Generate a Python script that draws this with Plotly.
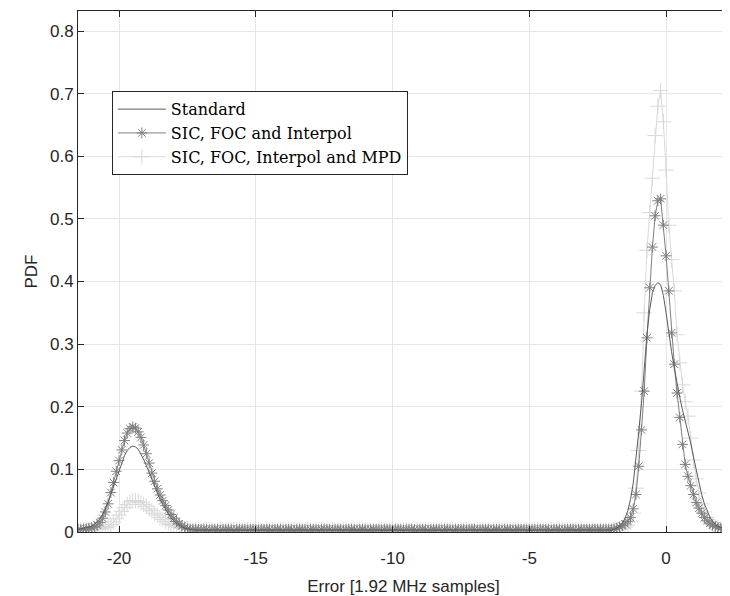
import numpy as np
import plotly.graph_objects as go

# x grid: -21.5 .. 2.3 in steps of 0.1
x_start, x_stop, x_step = -21.5, 2.3, 0.1
x = np.round(np.arange(x_start, x_stop + x_step / 2, x_step), 1)

series_names = ["Standard", "SIC, FOC and Interpol", "SIC, FOC, Interpol and MPD"]

# ---- Standard ----
std_left = [0.004, 0.005, 0.005, 0.006, 0.007, 0.009, 0.012, 0.016, 0.021, 0.028,
            0.037, 0.048, 0.060, 0.072, 0.086, 0.099,
            0.111, 0.122, 0.130, 0.135, 0.137, 0.136, 0.132, 0.125, 0.116, 0.106,
            0.095, 0.083, 0.072, 0.062, 0.052, 0.044, 0.036, 0.029, 0.023, 0.018,
            0.014, 0.011, 0.008, 0.006, 0.005, 0.004, 0.004, 0.003, 0.003, 0.003]
std_mid = [0.003, 0.003, 0.003, 0.002, 0.003, 0.003, 0.003, 0.002, 0.003, 0.003,
           0.003, 0.002, 0.003, 0.003, 0.003, 0.003, 0.002, 0.003, 0.003, 0.003,
           0.002, 0.003, 0.003, 0.003, 0.002, 0.003, 0.003, 0.003, 0.003, 0.002,
           0.003, 0.003, 0.002, 0.003, 0.003, 0.003, 0.003, 0.002, 0.003, 0.003,
           0.003, 0.002, 0.003, 0.003, 0.003, 0.003, 0.002, 0.003, 0.003, 0.003,
           0.002, 0.003, 0.003, 0.003, 0.003, 0.002, 0.003, 0.003, 0.003, 0.002,
           0.003, 0.003, 0.003, 0.002, 0.003, 0.003, 0.003, 0.003, 0.002, 0.003,
           0.003, 0.003, 0.002, 0.003, 0.003, 0.003, 0.003, 0.002, 0.003, 0.003,
           0.003, 0.002, 0.003, 0.003, 0.003, 0.003, 0.002, 0.003, 0.003, 0.003,
           0.002, 0.003, 0.003, 0.003, 0.003, 0.002, 0.003, 0.003, 0.003, 0.002,
           0.003, 0.003, 0.003, 0.002, 0.003, 0.003, 0.003, 0.003, 0.002, 0.003,
           0.003, 0.003, 0.002, 0.003, 0.003, 0.003, 0.003, 0.002, 0.003, 0.003,
           0.003, 0.002, 0.003, 0.003, 0.003, 0.003, 0.002, 0.003, 0.003, 0.003,
           0.002, 0.003, 0.003, 0.003, 0.003, 0.002, 0.003, 0.003, 0.003, 0.003,
           0.003, 0.003, 0.003, 0.003, 0.003, 0.003, 0.003, 0.003, 0.003]
std_right = [0.003, 0.004, 0.006, 0.009, 0.014, 0.022, 0.034, 0.052, 0.078, 0.115,
             0.160, 0.205, 0.265, 0.315, 0.355, 0.382, 0.394, 0.398, 0.395, 0.378,
             0.350, 0.315, 0.288, 0.262, 0.235, 0.215, 0.195, 0.178, 0.163, 0.142,
             0.120, 0.098, 0.078, 0.060, 0.045, 0.033, 0.024, 0.017, 0.012, 0.009,
             0.007, 0.005, 0.004, 0.004]

# ---- SIC, FOC and Interpol ----
sic_left = [0.004, 0.004, 0.005, 0.005, 0.006, 0.007, 0.008, 0.011, 0.015, 0.022,
            0.032, 0.045, 0.063, 0.079, 0.097, 0.114,
            0.131, 0.146, 0.158, 0.165, 0.168, 0.166, 0.160, 0.151, 0.139, 0.125,
            0.110, 0.094, 0.081, 0.069, 0.059, 0.050, 0.042, 0.035, 0.028, 0.022,
            0.017, 0.013, 0.010, 0.007, 0.005, 0.004, 0.004, 0.004, 0.004, 0.004]
sic_mid = [0.004, 0.004, 0.003, 0.004, 0.004, 0.004, 0.003, 0.004, 0.004, 0.004,
           0.004, 0.003, 0.004, 0.004, 0.004, 0.004, 0.003, 0.004, 0.004, 0.004,
           0.003, 0.004, 0.004, 0.004, 0.004, 0.003, 0.004, 0.004, 0.004, 0.003,
           0.004, 0.004, 0.004, 0.003, 0.004, 0.004, 0.004, 0.004, 0.003, 0.004,
           0.004, 0.004, 0.003, 0.004, 0.004, 0.004, 0.004, 0.003, 0.004, 0.004,
           0.004, 0.003, 0.004, 0.004, 0.004, 0.004, 0.003, 0.004, 0.004, 0.004,
           0.003, 0.004, 0.004, 0.004, 0.004, 0.003, 0.004, 0.004, 0.004, 0.003,
           0.004, 0.004, 0.004, 0.003, 0.004, 0.004, 0.004, 0.004, 0.003, 0.004,
           0.004, 0.004, 0.003, 0.004, 0.004, 0.004, 0.004, 0.003, 0.004, 0.004,
           0.004, 0.003, 0.004, 0.004, 0.004, 0.004, 0.003, 0.004, 0.004, 0.004,
           0.003, 0.004, 0.004, 0.004, 0.004, 0.003, 0.004, 0.004, 0.004, 0.003,
           0.004, 0.004, 0.004, 0.003, 0.004, 0.004, 0.004, 0.004, 0.003, 0.004,
           0.004, 0.004, 0.003, 0.004, 0.004, 0.004, 0.004, 0.003, 0.004, 0.004,
           0.004, 0.003, 0.004, 0.004, 0.004, 0.004, 0.003, 0.004, 0.004, 0.004,
           0.004, 0.004, 0.004, 0.004, 0.004, 0.004, 0.004, 0.004, 0.004]
sic_right = [0.004, 0.005, 0.006, 0.008, 0.010, 0.013, 0.017, 0.023, 0.037, 0.060,
             0.105, 0.163, 0.225, 0.310, 0.390, 0.455, 0.505, 0.529, 0.532, 0.490,
             0.441, 0.385, 0.318, 0.268, 0.222, 0.183, 0.140, 0.108, 0.089, 0.074,
             0.060, 0.047, 0.038, 0.030, 0.023, 0.018, 0.014, 0.011, 0.009, 0.007,
             0.006, 0.005, 0.004, 0.004]

# ---- SIC, FOC, Interpol and MPD ----
mpd_left = [0.003, 0.003, 0.003, 0.003, 0.003, 0.004, 0.004, 0.004, 0.005, 0.006,
            0.007, 0.009, 0.012, 0.016, 0.021, 0.027,
            0.033, 0.039, 0.044, 0.048, 0.050, 0.050, 0.049, 0.047, 0.044, 0.041,
            0.037, 0.034, 0.030, 0.027, 0.023, 0.020, 0.017, 0.014, 0.012, 0.010,
            0.008, 0.007, 0.006, 0.005, 0.005, 0.004, 0.004, 0.004, 0.004, 0.003]
mpd_mid = [0.003, 0.003, 0.004, 0.003, 0.003, 0.003, 0.004, 0.003, 0.003, 0.003,
           0.003, 0.004, 0.003, 0.003, 0.003, 0.003, 0.004, 0.003, 0.003, 0.003,
           0.004, 0.003, 0.003, 0.003, 0.003, 0.004, 0.003, 0.003, 0.003, 0.004,
           0.003, 0.003, 0.003, 0.004, 0.003, 0.003, 0.003, 0.003, 0.004, 0.003,
           0.003, 0.003, 0.004, 0.003, 0.003, 0.003, 0.003, 0.004, 0.003, 0.003,
           0.003, 0.004, 0.003, 0.003, 0.003, 0.003, 0.004, 0.003, 0.003, 0.003,
           0.004, 0.003, 0.003, 0.003, 0.003, 0.004, 0.003, 0.003, 0.003, 0.004,
           0.003, 0.003, 0.003, 0.004, 0.003, 0.003, 0.003, 0.003, 0.004, 0.003,
           0.003, 0.003, 0.004, 0.003, 0.003, 0.003, 0.003, 0.004, 0.003, 0.003,
           0.003, 0.004, 0.003, 0.003, 0.003, 0.003, 0.004, 0.003, 0.003, 0.003,
           0.004, 0.003, 0.003, 0.003, 0.003, 0.004, 0.003, 0.003, 0.003, 0.004,
           0.003, 0.003, 0.003, 0.004, 0.003, 0.003, 0.003, 0.003, 0.004, 0.003,
           0.003, 0.003, 0.004, 0.003, 0.003, 0.003, 0.003, 0.004, 0.003, 0.003,
           0.003, 0.004, 0.003, 0.003, 0.003, 0.003, 0.004, 0.003, 0.003, 0.003,
           0.003, 0.003, 0.003, 0.003, 0.003, 0.003, 0.003, 0.003, 0.003]
mpd_right = [0.003, 0.003, 0.004, 0.005, 0.006, 0.008, 0.011, 0.016, 0.030, 0.070,
             0.130, 0.225, 0.350, 0.450, 0.510, 0.565, 0.633, 0.680, 0.705, 0.655,
             0.578, 0.490, 0.435, 0.385, 0.315, 0.270, 0.235, 0.208, 0.185, 0.150,
             0.115, 0.085, 0.062, 0.045, 0.032, 0.023, 0.016, 0.012, 0.009, 0.007,
             0.005, 0.004, 0.004, 0.003]

y_std = std_left + std_mid + std_right
y_sic = sic_left + sic_mid + sic_right
y_mpd = mpd_left + mpd_mid + mpd_right

x_ticks = [-20, -15, -10, -5, 0]
x_tick_labels = ["-20", "-15", "-10", "-5", "0"]
y_ticks = [0, 0.1, 0.2, 0.3, 0.4, 0.5, 0.6, 0.7, 0.8]
y_tick_labels = ["0", "0.1", "0.2", "0.3", "0.4", "0.5", "0.6", "0.7", "0.8"]

fig = go.Figure()
fig.add_trace(go.Scatter(
    x=x, y=y_mpd, name=series_names[2], mode="lines+markers",
    line=dict(color="#d9d9d9", width=1),
    marker=dict(symbol="cross-thin-open", size=11, color="#d9d9d9",
                line=dict(color="#d9d9d9", width=1))))
fig.add_trace(go.Scatter(
    x=x, y=y_sic, name=series_names[1], mode="lines+markers",
    line=dict(color="#7f7f7f", width=1),
    marker=dict(symbol="asterisk-open", size=9, color="#7f7f7f",
                line=dict(color="#7f7f7f", width=1))))
fig.add_trace(go.Scatter(
    x=x, y=y_std, name=series_names[0], mode="lines",
    line=dict(color="#5a5a5a", width=1)))

axis_common = dict(
    showgrid=True, gridcolor="#e6e6e6", gridwidth=1,
    zeroline=False, showline=True, linecolor="#262626", linewidth=1,
    ticks="inside", ticklen=6, tickcolor="#262626",
    tickfont=dict(family="Liberation Sans, Arial, sans-serif", size=17, color="#262626"),
)

fig.update_layout(
    width=722, height=588,
    paper_bgcolor="white", plot_bgcolor="white",
    margin=dict(l=70, r=1, t=3, b=64),
    showlegend=True,
    legend=dict(
        x=0.052, y=0.846, xanchor="left", yanchor="top",
        traceorder="reversed",
        bgcolor="white", bordercolor="#262626", borderwidth=1,
        font=dict(family="DejaVu Serif, serif", size=16, color="#000000"),
        tracegroupgap=0, itemwidth=48,
    ),
    xaxis=dict(range=[-21.5, 2.3], tickvals=x_ticks, ticktext=x_tick_labels,
               mirror="ticks", ticklabelstandoff=11,
               title=dict(text="Error [1.92 MHz samples]", standoff=12,
                          font=dict(family="Liberation Sans, Arial, sans-serif", size=17, color="#262626")),
               **axis_common),
    yaxis=dict(range=[0, 0.832], tickvals=y_ticks, ticktext=y_tick_labels,
               ticklabelstandoff=0,
               title=dict(text="PDF", standoff=8,
                          font=dict(family="Liberation Sans, Arial, sans-serif", size=17, color="#262626")),
               **axis_common),
)

fig.write_html("out.html")
